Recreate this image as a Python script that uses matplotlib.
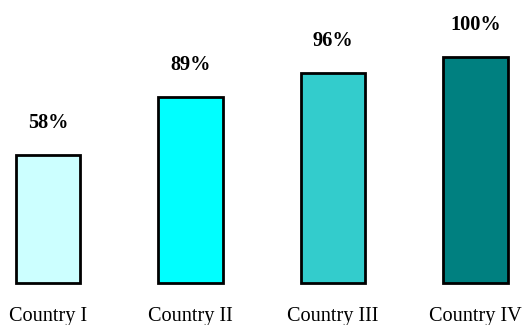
import numpy as np
import matplotlib.pyplot as plt

plt.rcParams['font.family'] = ['Liberation Serif', 'DejaVu Serif']

# bar heights as drawn (percent of tallest bar), labels as printed
countries = ["Country I", "Country II", "Country III", "Country IV"]
heights = [56.6, 82.3, 92.9, 100.0]
value_labels = ["58%", "89%", "96%", "100%"]
colors = ["#CCFFFF", "#00FFFF", "#33CCCC", "#008080"]

fig = plt.figure(figsize=(5.22, 3.25), dpi=100)
ax = fig.add_axes([0, 0, 1, 1])

x = np.arange(len(countries))
ax.bar(x, heights, width=0.45, color=colors, edgecolor="black", linewidth=2.0)

for xi, h, lab in zip(x, heights, value_labels):
    ax.text(xi, h + 14.2, lab, ha="center", va="center", fontsize=14.6, fontweight="bold")
for xi, name in zip(x, countries):
    ax.text(xi, -15.0, name, ha="center", va="center", fontsize=14.6)

ax.set_xlim(-0.337, 3.326)
ax.set_ylim(-18.6, 125.2)
ax.axis("off")

fig.savefig("out.png", dpi=100)
